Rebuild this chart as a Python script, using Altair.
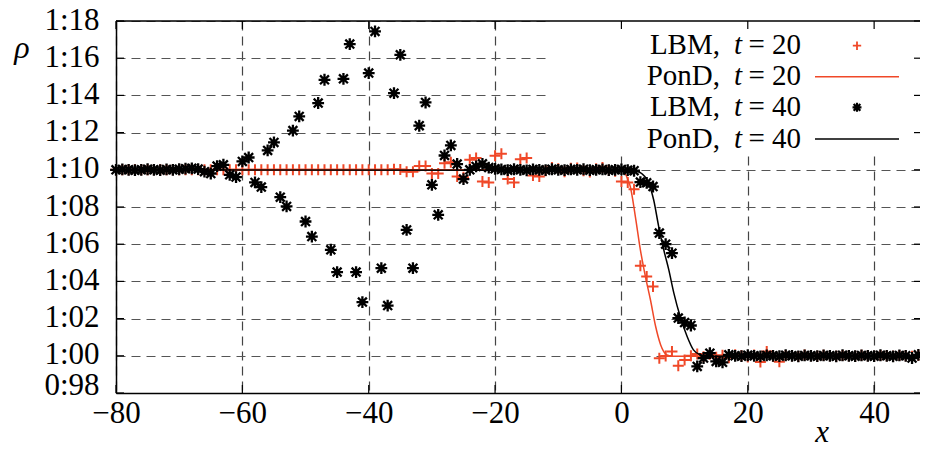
import altair as alt
import pandas as pd

W, H = 804, 372
XDOM = [-80, 47.26]
YDOM = [0.98, 1.18]
RED = "#f04828"
FONT = "Liberation Serif"
FS = 31
LFS = 29

x_vals = list(range(-80, 49))

lbm20 = [
    1.100, 1.100, 1.100, 1.100, 1.100, 1.100, 1.100, 1.100, 1.100, 1.100,
    1.100, 1.100, 1.100, 1.100, 1.100, 1.100, 1.100, 1.100, 1.100, 1.100,
    1.100, 1.100, 1.100, 1.100, 1.100, 1.100, 1.100, 1.100, 1.100, 1.100,
    1.100, 1.100, 1.100, 1.100, 1.100, 1.100, 1.100, 1.100, 1.100, 1.100,
    1.100, 1.100, 1.100, 1.100, 1.1003, 1.1002,
    1.099, 1.099, 1.102, 1.102, 1.098, 1.098, 1.1035, 1.104, 1.0964, 1.096,
    1.1054, 1.1063, 1.0937, 1.0932, 1.1075, 1.1086, 1.095, 1.0932, 1.1057, 1.1063,
    1.097, 1.0964, 1.0995, 1.1012, 1.1005, 1.099, 1.1008, 1.101, 1.0995, 1.0988,
    1.1005, 1.1012, 1.0998, 1.0992, 1.0937, 1.0932, 1.0896, 1.0484, 1.0426, 1.0373,
    0.9987, 0.9999, 1.0023, 0.9946, 0.9978, 1.0000, 1.0010, 0.9995, 1.0008, 0.9992,
    1.0003, 0.9990, 1.0006, 1.0000, 0.9994, 1.0004, 0.9966, 1.0023, 0.9997, 0.9968,
    1.0002, 1.0000, 0.9996, 1.0004, 1.0000, 0.9998, 1.0003, 1.0000, 0.9997, 1.0002,
    1.0000, 0.9998, 1.0003, 1.0000, 0.9997, 1.0002, 1.0000, 0.9998, 1.0001, 1.0000,
    0.9998, 1.0003, 1.0000,
]

lbm40 = [
    1.100, 1.1002, 1.100, 1.0998, 1.100, 1.1003, 1.100, 1.0998, 1.1002, 1.100,
    1.1003, 1.1006, 1.1008, 1.1004, 1.099, 1.098, 1.102, 1.1027, 1.0973, 1.0961,
    1.1045, 1.1066, 1.0932, 1.0907, 1.1104, 1.1147, 1.0853, 1.0803, 1.1211, 1.1287,
    1.0722, 1.0641, 1.1359, 1.1484, 1.057, 1.045, 1.1489, 1.1676, 1.045, 1.0289,
    1.152, 1.1744, 1.0471, 1.027, 1.1412, 1.1618, 1.0677, 1.0471, 1.1237, 1.1362,
    1.0919, 1.0758, 1.1077, 1.1131, 1.1031, 1.095, 1.100, 1.1018, 1.1032, 1.1012,
    1.1005, 1.1002, 1.0998, 1.1003, 1.100, 1.0997, 1.1002, 1.100, 1.0998, 1.1003,
    1.100, 1.0998, 1.1002, 1.100, 1.1003, 1.0998, 1.100, 1.1002, 1.0998, 1.100,
    1.1002, 1.0998, 1.0995, 1.0934, 1.093, 1.091, 1.066, 1.060, 1.0552, 1.0203,
    1.0179, 1.0163, 0.9943, 0.9988, 1.0014, 0.997, 0.9965, 1.0005, 1.0000, 0.9998,
    1.0003, 1.0000, 0.9997, 1.0002, 1.0000, 0.9998, 1.0003, 1.0000, 0.9997, 1.0002,
    1.0000, 0.9998, 1.0002, 1.0000, 0.9997, 1.0003, 1.0000, 0.9998, 1.0002, 1.0000,
    0.9998, 1.0003, 1.0000, 0.9997, 1.0002, 1.0000, 0.9988, 1.0005, 1.0000,
]
assert len(lbm20) == len(x_vals) and len(lbm40) == len(x_vals)

pond20_x = [-80, -1, 0.0, 0.4, 1.0, 1.4, 2.2, 3.0, 3.8, 4.6, 5.4, 6.2, 7.2, 8.2, 48.2]
pond20_y = [1.100, 1.100, 1.0997, 1.099, 1.095, 1.091, 1.075, 1.057, 1.0426, 1.030,
            1.016, 1.006, 1.0005, 0.9998, 1.000]
pond40_x = [-80, 2.0, 2.5, 3.2, 4.06, 5.1, 5.9, 6.7, 7.5, 8.3, 9.3, 10.4, 11.4, 12.5, 13.5, 48.2]
pond40_y = [1.100, 1.0997, 1.0992, 1.098, 1.0946, 1.0839, 1.0695, 1.057, 1.0462, 1.0337,
            1.0211, 1.0104, 1.0032, 1.0005, 0.9998, 1.000]

x_ticks = [-80, -60, -40, -20, 0, 20, 40]
y_ticks = [0.98, 1.00, 1.02, 1.04, 1.06, 1.08, 1.10, 1.12, 1.14, 1.16, 1.18]

legend_names = ["LBM,", "PonD,", "LBM,", "PonD,"]
legend_times = ["= 20", "= 20", "= 40", "= 40"]

PLUS = "M-1,0L1,0M0,-1L0,1"
STAR = "M-1,0L1,0M0,-1L0,1M-0.75,-0.75L0.75,0.75M-0.75,0.75L0.75,-0.75"

xs = alt.Scale(domain=XDOM, nice=False, zero=False)
ys = alt.Scale(domain=YDOM, nice=False, zero=False)

x_axis = alt.Axis(values=x_ticks, title=None, ticks=False, grid=True, gridDash=[9, 6],
                  gridColor="#444", gridWidth=1.2, domainColor="black", domainWidth=1.5,
                  labelFont=FONT, labelFontSize=FS, labelColor="black", labelPadding=5,
                  labelFlush=False, labelOverlap=False,
                  labelExpr="format(datum.value, 'd')")
y_axis = alt.Axis(values=y_ticks, title=None, ticks=False, grid=True, gridDash=[9, 6],
                  gridColor="#555", gridWidth=1.2, domainColor="black", domainWidth=1.5,
                  labelFont=FONT, labelFontSize=FS, labelColor="black", labelPadding=17,
                  labelFlush=False, labelOverlap=False,
                  labelExpr="replace(format(datum.value, '.2f'), '.', ':')",
                  labelOffset={"condition": {"test": "datum.value < 0.99", "value": -8}, "value": -1})

X = lambda f: alt.X(f, scale=xs, axis=x_axis)
Y = lambda f: alt.Y(f, scale=ys, axis=y_axis)

one = alt.Data(values=[{"a": 0}])

df20 = pd.DataFrame({"x": x_vals, "rho": lbm20})
df40 = pd.DataFrame({"x": x_vals, "rho": lbm40})
dl20 = pd.DataFrame({"x": pond20_x, "rho": pond20_y})
dl40 = pd.DataFrame({"x": pond40_x, "rho": pond40_y})
dxt = pd.DataFrame({"v": x_ticks})
dyt = pd.DataFrame({"v": y_ticks})

layers = []
# opaque key box
layers.append(alt.Chart(one).mark_rect(fill="white").encode(
    x=alt.value(434), x2=alt.value(W), y=alt.value(0), y2=alt.value(132)))

layers.append(alt.Chart(df20).mark_point(shape=PLUS, filled=False, color=RED, strokeWidth=2.0,
                                         size=121, opacity=1).encode(x=X("x:Q"), y=Y("rho:Q")))
layers.append(alt.Chart(dl20).mark_line(color=RED, strokeWidth=1.5, interpolate="monotone").encode(
    x=X("x:Q"), y=Y("rho:Q")))
layers.append(alt.Chart(df40).mark_point(shape=STAR, filled=False, color="black", strokeWidth=2.3,
                                         size=140, opacity=1).encode(x=X("x:Q"), y=Y("rho:Q")))
layers.append(alt.Chart(dl40).mark_line(color="black", strokeWidth=1.5, interpolate="monotone").encode(
    x=X("x:Q"), y=Y("rho:Q")))

# top border
layers.append(alt.Chart(one).mark_rule(color="black", strokeWidth=1.5).encode(
    x=alt.value(0), x2=alt.value(W), y=alt.value(0)))
# inward ticks
layers.append(alt.Chart(dxt).mark_rule(color="black", strokeWidth=1.2).encode(
    x=X("v:Q"), y=alt.value(H), y2=alt.value(H - 8)))
layers.append(alt.Chart(dxt).mark_rule(color="black", strokeWidth=1.2).encode(
    x=X("v:Q"), y=alt.value(0), y2=alt.value(8)))
layers.append(alt.Chart(dyt).mark_rule(color="black", strokeWidth=1.2).encode(
    y=Y("v:Q"), x=alt.value(0), x2=alt.value(8)))
layers.append(alt.Chart(dyt).mark_rule(color="black", strokeWidth=1.2).encode(
    y=Y("v:Q"), x=alt.value(W - 6), x2=alt.value(W)))


def txt(s, x, y, align="right", italic=False, size=LFS):
    return alt.Chart(one).mark_text(text=s, font=FONT, fontSize=size,
                                    fontStyle="italic" if italic else "normal",
                                    align=align, baseline="alphabetic", color="black").encode(
        x=alt.value(x), y=alt.value(y))


row_c = [24.7, 55.7, 86.3, 118.0]
for i in range(4):
    b = row_c[i] + 8.5
    layers.append(txt(legend_times[i], 685, b))
    layers.append(txt("t", 626, b, italic=True))
    layers.append(txt(legend_names[i], 604, b))

layers.append(alt.Chart(one).mark_point(shape=PLUS, filled=False, color=RED, strokeWidth=1.8,
                                        size=70, opacity=1).encode(x=alt.value(741), y=alt.value(row_c[0])))
layers.append(alt.Chart(one).mark_rule(color=RED, strokeWidth=1.5).encode(
    x=alt.value(699), x2=alt.value(783), y=alt.value(row_c[1])))
layers.append(alt.Chart(one).mark_point(shape=STAR, filled=False, color="black", strokeWidth=2.2,
                                        size=80, opacity=1).encode(x=alt.value(741), y=alt.value(row_c[2])))
layers.append(alt.Chart(one).mark_rule(color="black", strokeWidth=1.5).encode(
    x=alt.value(699), x2=alt.value(783), y=alt.value(row_c[3])))

layers.append(txt("ρ", -94, 37, align="center", italic=True, size=32))
layers.append(txt("x", 706, 421, align="center", italic=True, size=31))

chart = alt.layer(*layers).properties(
    width=W, height=H,
    autosize=alt.AutoSizeParams(type="none"),
    padding={"left": 108, "top": 13, "right": 0, "bottom": 53},
).configure_view(strokeOpacity=0).configure(font=FONT)

chart.save("out.html", embed_options={"renderer": "svg", "actions": False})
